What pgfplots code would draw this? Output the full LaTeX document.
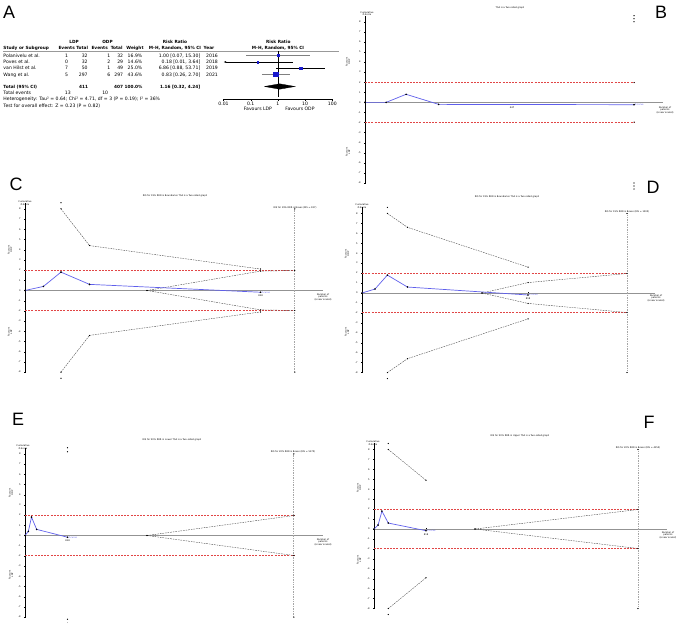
\documentclass[border=0pt]{standalone}
\usepackage{pgfplots}
\pgfplotsset{compat=1.18}
\usetikzlibrary{arrows.meta}
\usepackage{fontspec}
\setmainfont{DejaVu Sans}
\newfontfamily\lab{Liberation Sans}
\definecolor{zblue}{RGB}{95,95,235}
\definecolor{bred}{RGB}{225,70,70}
\definecolor{fsq}{RGB}{25,25,205}
\newcommand{\ft}{\fontsize{4.6}{5}\selectfont}
\newcommand{\fb}{\fontsize{4.3}{5}\selectfont\bfseries}
\newcommand{\tn}{\fontsize{2.3}{2.6}\selectfont}
\newcommand{\panl}{\lab\fontsize{18}{18}\selectfont}
\pgfplotsset{
 tsa/.style={
  scale only axis, anchor=south west, clip=false,
  axis x line=middle, axis y line=left,
  ymin=-8, ymax=8.6, ytick={-8,...,8},
  x axis line style={draw=gray!85, line width=0.9bp, -},
  y axis line style={draw=black, line width=0.35bp, -},
  tick style={black, line width=0.3bp},
  major tick length=1.6bp,
  yticklabel style={font=\tn},
  xticklabel style={font=\tn},
  /pgf/number format/assume math mode=true,
 },
 zc/.style={draw=zblue, line width=0.7bp, mark=*, mark size=0.4bp, mark options={draw=black,fill=black}},
 bnd/.style={draw=black!70, dash pattern=on 1.6bp off 1bp, line width=0.4bp, mark=*, mark size=0.35bp, mark options={draw=black,fill=black,solid}},
 tip/.style={only marks, mark=*, mark size=0.35bp, mark options={draw=black,fill=black}},
 red2/.style={draw=bred, dash pattern=on 2bp off 1.2bp, line width=1bp, mark=none},
 ris/.style={draw=gray!70, dash pattern=on 1bp off 0.7bp, line width=0.8bp, mark=none},
}
\begin{document}
\begin{tikzpicture}
\useasboundingbox (0,0) rectangle (676bp,-623bp);
\begin{scope}[x=1bp,y=-1bp]
% panel letters
\node[font=\panl] at (9,12) {A};
\node[font=\panl] at (661,12) {B};
\node[font=\panl] at (16,184) {C};
\node[font=\panl] at (653,187) {D};
\node[font=\panl] at (18,419) {E};
\node[font=\panl] at (649,422) {F};
% ---------- forest table ----------
\begin{scope}[every node/.style={inner sep=0pt, font=\ft}]
\node[anchor=base, font=\fb] at (74,43.8) {LDP};
\node[anchor=base, font=\fb] at (107.5,43.8) {ODP};
\node[anchor=base, font=\fb] at (175,43.8) {Risk Ratio};
\node[anchor=base, font=\fb] at (278.3,43.8) {Risk Ratio};
\node[anchor=base west, font=\fb] at (3.3,49.6) {Study or Subgroup};
\node[anchor=base, font=\fb] at (66.7,49.6) {Events};
\node[anchor=base, font=\fb] at (82.2,49.6) {Total};
\node[anchor=base, font=\fb] at (99.7,49.6) {Events};
\node[anchor=base, font=\fb] at (116.7,49.6) {Total};
\node[anchor=base, font=\fb] at (135,49.6) {Weight};
\node[anchor=base, font=\fb] at (175,49.6) {M-H, Random, 95\% CI};
\node[anchor=base, font=\fb] at (209,49.6) {Year};
\node[anchor=base, font=\fb] at (278,49.6) {M-H, Random, 95\% CI};
% rows
\node[anchor=base west] at (3.3,57.2) {Polanivelu et al.};
\node[anchor=base east] at (68.3,57.2) {1};
\node[anchor=base east] at (87.8,57.2) {32};
\node[anchor=base east] at (110.5,57.2) {1};
\node[anchor=base east] at (123.3,57.2) {32};
\node[anchor=base east] at (142.5,57.2) {16.9\%};
\node[anchor=base east] at (200.5,57.2) {1.00 [0.07, 15.30]};
\node[anchor=base west] at (206,57.2) {2016};
\node[anchor=base west] at (3.3,63.6) {Poves et al.};
\node[anchor=base east] at (68.3,63.6) {0};
\node[anchor=base east] at (87.8,63.6) {32};
\node[anchor=base east] at (110.5,63.6) {2};
\node[anchor=base east] at (123.3,63.6) {29};
\node[anchor=base east] at (142.5,63.6) {14.6\%};
\node[anchor=base east] at (200.5,63.6) {0.18 [0.01, 3.64]};
\node[anchor=base west] at (206,63.6) {2018};
\node[anchor=base west] at (3.3,69.7) {van Hilst et al.};
\node[anchor=base east] at (68.3,69.7) {7};
\node[anchor=base east] at (87.8,69.7) {50};
\node[anchor=base east] at (110.5,69.7) {1};
\node[anchor=base east] at (123.3,69.7) {49};
\node[anchor=base east] at (142.5,69.7) {25.0\%};
\node[anchor=base east] at (200.5,69.7) {6.86 [0.88, 53.71]};
\node[anchor=base west] at (206,69.7) {2019};
\node[anchor=base west] at (3.3,76) {Wang et al.};
\node[anchor=base east] at (68.3,76) {5};
\node[anchor=base east] at (87.8,76) {297};
\node[anchor=base east] at (110.5,76) {6};
\node[anchor=base east] at (123.3,76) {297};
\node[anchor=base east] at (142.5,76) {43.6\%};
\node[anchor=base east] at (200.5,76) {0.83 [0.26, 2.70]};
\node[anchor=base west] at (206,76) {2021};
\node[anchor=base west, font=\fb] at (3.3,88.2) {Total (95\% CI)};
\node[anchor=base east, font=\fb] at (88.3,88.2) {411};
\node[anchor=base east, font=\fb] at (123.3,88.2) {407};
\node[anchor=base east, font=\fb] at (142.7,88.2) {100.0\%};
\node[anchor=base east, font=\fb] at (200.5,88.2) {1.16 [0.32, 4.24]};
\node[anchor=base west] at (3.3,94.5) {Total events};
\node[anchor=base east] at (71,94.5) {13};
\node[anchor=base east] at (108.3,94.5) {10};
\node[anchor=base west] at (3.3,100.9) {Heterogeneity: Tau² = 0.64; Chi² = 4.71, df = 3 (P = 0.19); I² = 36\%};
\node[anchor=base west] at (3.3,107.2) {Test for overall effect: Z = 0.23 (P = 0.82)};
\node[anchor=base] at (258,110.5) {Favours LDP};
\node[anchor=base] at (300,110.5) {Favours ODP};
\end{scope}
\draw[gray!80, line width=1bp] (3,51.3) -- (339,51.3);
% ---------- TSA text ----------
\begin{scope}[every node/.style={inner sep=0pt, font=\tn, align=center}]
% B
\node at (510,8) {TSA is a Two-sided graph};
\node at (367,13.5) {Cumulative\\Z-Score};
\node[rotate=90] at (348,62) {Favours\\ODP};
\node[rotate=90] at (348,152) {Favours\\LDP};
\node at (665,110) {Number of\\patients\\(Linear scaled)};
% C
\node at (175,196) {RIS for 19\% RRR is Boundaries TSA is a Two-sided graph};
\node at (25,203) {Cumulative\\Z-Score};
\node[rotate=90] at (10,250) {Favours\\ODP};
\node[rotate=90] at (10,332) {Favours\\LDP};
\node at (323,297) {Number of\\patients\\(Linear scaled)};
\node at (295,207.5) {RIS for 19\% RRR is Boxes (RIS = 937)};
% D
\node at (507,197) {RIS for 19\% RRR is Boundaries TSA is a Two-sided graph};
\node at (362,206) {Cumulative\\Z-Score};
\node[rotate=90] at (347,254) {Favours\\ODP};
\node[rotate=90] at (347,332) {Favours\\LDP};
\node at (656,298) {Number of\\patients\\(Linear scaled)};
\node at (627,212) {RIS for 19\% RRR is Boxes (RIS = 1305)};
% E
\node at (172,440) {RIS for 20\% RRR in Lower TSA is a Two-sided graph};
\node at (23,447) {Cumulative\\Z-Score};
\node[rotate=90] at (11,493) {Favours\\ODP};
\node[rotate=90] at (11,575) {Favours\\LDP};
\node at (323,542) {Number of\\patients\\(Linear scaled)};
\node at (293,452) {RIS for 20\% RRR is Boxes (RIS = 5170)};
% F
\node at (520,436) {RIS for 20\% RRR in Upper TSA is a Two-sided graph};
\node at (373,443) {Cumulative\\Z-Score};
\node[rotate=90] at (359,488) {Favours\\ODP};
\node[rotate=90] at (359,560) {Favours\\LDP};
\node at (668,535) {Number of\\patients\\(Linear scaled)};
\node at (638,448) {RIS for 20\% RRR is Boxes (RIS = 4150)};
\end{scope}
\end{scope}

% ---------- forest plot axis ----------
\begin{axis}[at={(223.5bp,-51.3bp)}, anchor=north west, scale only axis,
  width=108.8bp, height=47.7bp, xmode=log, xmin=0.01, xmax=100,
  ymin=-99, ymax=-51.3, axis x line=bottom, axis y line=none,
  x axis line style={black, line width=0.4bp, -},
  xtick={0.01,0.1,1,10,100}, xticklabels={0.01,0.1,1,10,100}, xminorticks=false,
  tick style={black, line width=0.4bp}, tick align=outside, major tick length=2bp,
  xticklabel style={font=\ft, inner sep=1bp}, clip=false]
\addplot[black, line width=0.4bp] coordinates {(1,-51.3)(1,-97)};
\addplot[gray, line width=0.45bp] coordinates {(0.07,-55.5)(15.30,-55.5)};
\addplot[black, line width=0.45bp, {Latex[length=2.5bp,width=1.8bp]}-] coordinates {(0.01,-62)(3.64,-62)};
\addplot[black, line width=0.45bp] coordinates {(0.88,-68)(53.71,-68)};
\addplot[gray, line width=0.45bp] coordinates {(0.26,-74.3)(2.70,-74.3)};
\addplot[only marks, mark=square*, mark size=0.9bp, fsq] coordinates {(1.00,-55.5)};
\addplot[only marks, mark=square*, mark size=0.85bp, fsq] coordinates {(0.18,-62)};
\addplot[only marks, mark=square*, mark size=1.15bp, fsq] coordinates {(6.86,-68)};
\addplot[only marks, mark=square*, mark size=2.1bp, fsq] coordinates {(0.83,-74.3)};
\addplot[fill=black, draw=black, line width=0.3bp] coordinates {(0.32,-86.5)(1.16,-83.8)(4.24,-86.5)(1.16,-89.2)(0.32,-86.5)};
\end{axis}

% ---------- B ----------
\begin{axis}[tsa, at={(365bp,-183bp)}, width=298bp, height=167.3bp, xmin=0, xmax=906,
  xtick={447}, xticklabels={447}]
\addplot[red2] coordinates {(0,1.96)(818,1.96)};
\addplot[red2] coordinates {(0,-1.96)(818,-1.96)};
\addplot[tip] coordinates {(818,8.6)(818,8.3)(818,8.0)(818,-8.0)(818,-8.3)(818,-8.6)(818,1.96)(818,-1.96)};
\addplot[zc] coordinates {(0,0)(64,0)(125,0.8)(224,-0.2)(818,-0.23)};
\node[right, font=\tn, text=zblue, inner sep=0.6bp] at (axis cs:818,-0.23) {Z-curve};
\end{axis}

% ---------- C ----------
\begin{axis}[tsa, at={(25bp,-372.13bp)}, width=298bp, height=169.39bp, xmin=0, xmax=1035,
  xtick={818}, xticklabels={818}]
\addplot[red2] coordinates {(0,1.96)(937,1.96)};
\addplot[red2] coordinates {(0,-1.96)(937,-1.96)};
\addplot[ris] coordinates {(937,-8)(937,8)};
\addplot[tip] coordinates {(937,8)(937,-8)(125,8.6)(125,-8.6)};
\addplot[bnd] coordinates {(125,8)(224,4.4)(818,2.1)};
\addplot[bnd] coordinates {(125,-8)(224,-4.4)(818,-2.1)};
\addplot[bnd] coordinates {(424,0)(818,1.9)(937,1.96)};
\addplot[bnd] coordinates {(424,0)(818,-1.9)(937,-1.96)};
\addplot[zc] coordinates {(0,0)(64,0.4)(125,1.8)(224,0.6)(818,-0.17)};
\node[right, font=\tn, text=zblue, inner sep=0.6bp] at (axis cs:818,-0.17) {Z-curve};
\end{axis}

% ---------- D ----------
\begin{axis}[tsa, at={(362bp,-372.59bp)}, width=293bp, height=165.15bp, xmin=0, xmax=1443,
  xtick={818}, xticklabels={818}]
\addplot[red2] coordinates {(0,1.96)(1305,1.96)};
\addplot[red2] coordinates {(0,-1.96)(1305,-1.96)};
\addplot[ris] coordinates {(1305,-8)(1305,8)};
\addplot[tip] coordinates {(1305,8)(1305,-8)(125,8.6)(125,-8.6)};
\addplot[bnd] coordinates {(125,8)(224,6.6)(818,2.6)};
\addplot[bnd] coordinates {(125,-8)(224,-6.6)(818,-2.6)};
\addplot[bnd] coordinates {(591,0)(818,1.05)(1305,1.96)};
\addplot[bnd] coordinates {(591,0)(818,-1.05)(1305,-1.96)};
\addplot[zc] coordinates {(0,0)(64,0.4)(125,1.8)(224,0.6)(818,-0.2)};
\node[right, font=\tn, text=zblue, inner sep=0.6bp] at (axis cs:818,-0.2) {Z-curve};
\end{axis}

% ---------- E ----------
\begin{axis}[tsa, at={(25bp,-617.13bp)}, width=298bp, height=169.39bp, xmin=0, xmax=5730,
  xtick={818}, xticklabels={818}]
\addplot[red2] coordinates {(0,1.96)(5170,1.96)};
\addplot[red2] coordinates {(0,-1.96)(5170,-1.96)};
\addplot[ris] coordinates {(5170,-8)(5170,8)};
\addplot[tip] coordinates {(5170,8)(5170,-8)(818,8.6)(818,8.2)(818,-8.2)(818,-8.6)};
\addplot[bnd] coordinates {(2346,0)(5170,1.96)};
\addplot[bnd] coordinates {(2346,0)(5170,-1.96)};
\addplot[zc] coordinates {(0,0)(64,0.4)(125,1.8)(224,0.6)(818,-0.17)};
\node[right, font=\tn, text=zblue, inner sep=0.6bp] at (axis cs:818,-0.17) {Z-curve};
\end{axis}

% ---------- F ----------
\begin{axis}[tsa, at={(374bp,-608.59bp)}, width=293bp, height=165.15bp, xmin=0, xmax=4607,
  xtick={818}, xticklabels={818}]
\addplot[red2] coordinates {(0,1.96)(4150,1.96)};
\addplot[red2] coordinates {(0,-1.96)(4150,-1.96)};
\addplot[ris] coordinates {(4150,-8)(4150,8)};
\addplot[tip] coordinates {(4150,8)(4150,-8)(224,8.6)(224,-8.6)};
\addplot[bnd] coordinates {(224,8)(818,4.9)};
\addplot[bnd] coordinates {(224,-8)(818,-4.9)};
\addplot[bnd] coordinates {(1588,0)(4150,1.96)};
\addplot[bnd] coordinates {(1588,0)(4150,-1.96)};
\addplot[zc] coordinates {(0,0)(64,0.4)(125,1.8)(224,0.6)(818,-0.17)};
\node[right, font=\tn, text=zblue, inner sep=0.6bp] at (axis cs:818,-0.17) {Z-curve};
\end{axis}
\end{tikzpicture}
\end{document}
